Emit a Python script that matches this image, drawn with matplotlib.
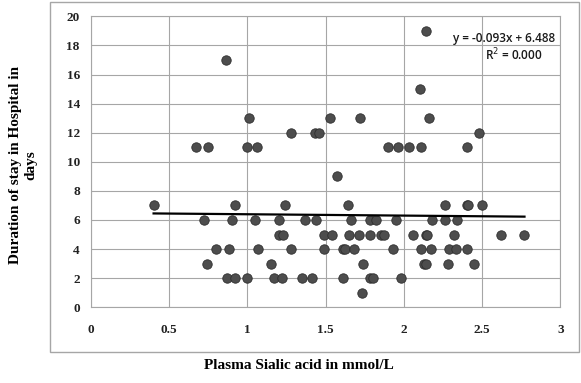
import numpy as np
import matplotlib.pyplot as plt
from matplotlib.patches import Rectangle

# points, grouped by stay (days)
rows = {
    19: [2.14],
    17: [0.86],
    15: [2.10],
    13: [1.01, 1.53, 1.72, 2.16],
    12: [1.28, 1.43, 1.46, 2.48],
    11: [0.67, 0.75, 1.00, 1.06, 1.90, 1.96, 2.03, 2.11, 2.40],
    9: [1.57],
    7: [0.40, 0.92, 1.24, 1.64, 2.26, 2.40, 2.41, 2.50],
    6: [0.72, 0.90, 1.05, 1.20, 1.37, 1.44, 1.66, 1.78, 1.82, 1.95, 2.18, 2.26, 2.34],
    5: [1.20, 1.23, 1.49, 1.54, 1.65, 1.71, 1.78, 1.85, 1.87, 2.06, 2.14, 2.15, 2.32, 2.62, 2.77],
    4: [0.80, 0.88, 1.07, 1.28, 1.49, 1.61, 1.62, 1.68, 1.93, 2.11, 2.17, 2.29, 2.33, 2.40],
    3: [0.74, 1.15, 1.74, 2.13, 2.14, 2.28, 2.45],
    2: [0.87, 0.92, 1.00, 1.17, 1.22, 1.35, 1.41, 1.61, 1.78, 1.80, 1.98],
    1: [1.73],
}
sialic = np.array([x for d in rows for x in rows[d]])
stay = np.array([d for d in rows for x in rows[d]])

slope = -0.093
intercept = 6.488
eq_text = "y = -0.093x + 6.488"
r2_text = "R$^2$ = 0.000"

serif = "Liberation Serif"

fig = plt.figure(figsize=(5.81, 3.83), dpi=100)
ax = fig.add_axes([0.1566, 0.1977, 0.8081, 0.7597])

fig.patches.append(Rectangle((0.086, 0.0817), 0.9106, 0.913, transform=fig.transFigure,
                             fill=False, edgecolor="#a6a6a6", linewidth=1.0))

ax.scatter(sialic, stay, s=46, color="#4d4d4d", edgecolor="#2e2e2e", linewidth=0.6, zorder=3)

xl = np.array([sialic.min(), sialic.max()])
ax.plot(xl, slope * xl + intercept, color="black", linewidth=1.6, zorder=4)

ax.set_xlim(0, 3)
ax.set_ylim(0, 20)
ax.set_xticks(np.arange(0, 3.01, 0.5))
ax.set_xticklabels(["0", "0.5", "1", "1.5", "2", "2.5", "3"])
ax.set_yticks(np.arange(0, 21, 2))
ax.grid(True, color="#a6a6a6", linewidth=0.8)
ax.set_axisbelow(True)
for sp in ax.spines.values():
    sp.set_color("#a6a6a6")
    sp.set_linewidth(0.8)
ax.tick_params(length=0, labelsize=9.5, colors="#222222", pad=8)
for lab in ax.get_xticklabels() + ax.get_yticklabels():
    lab.set_fontfamily(serif)
    lab.set_fontweight("bold")
ax.tick_params(axis="x", pad=12)

ax.text(0.988, 0.925, eq_text, transform=ax.transAxes, ha="right", va="center",
        fontsize=8.5, family="Open Sans", fontweight="semibold", color="#1a1a1a")
ax.text(0.962, 0.866, r2_text, transform=ax.transAxes, ha="right", va="center",
        fontsize=8.5, family="Open Sans", fontweight="semibold", color="#1a1a1a")

fig.text(0.515, 0.045, "Plasma Sialic acid in mmol/L", ha="center", va="center",
         fontsize=11, family=serif, fontweight="bold")
fig.text(0.04, 0.57, "Duration of stay in Hospital in\ndays", ha="center", va="center",
         rotation=90, fontsize=11, family=serif, fontweight="bold", linespacing=1.3)

fig.savefig("out.png", dpi=100)
